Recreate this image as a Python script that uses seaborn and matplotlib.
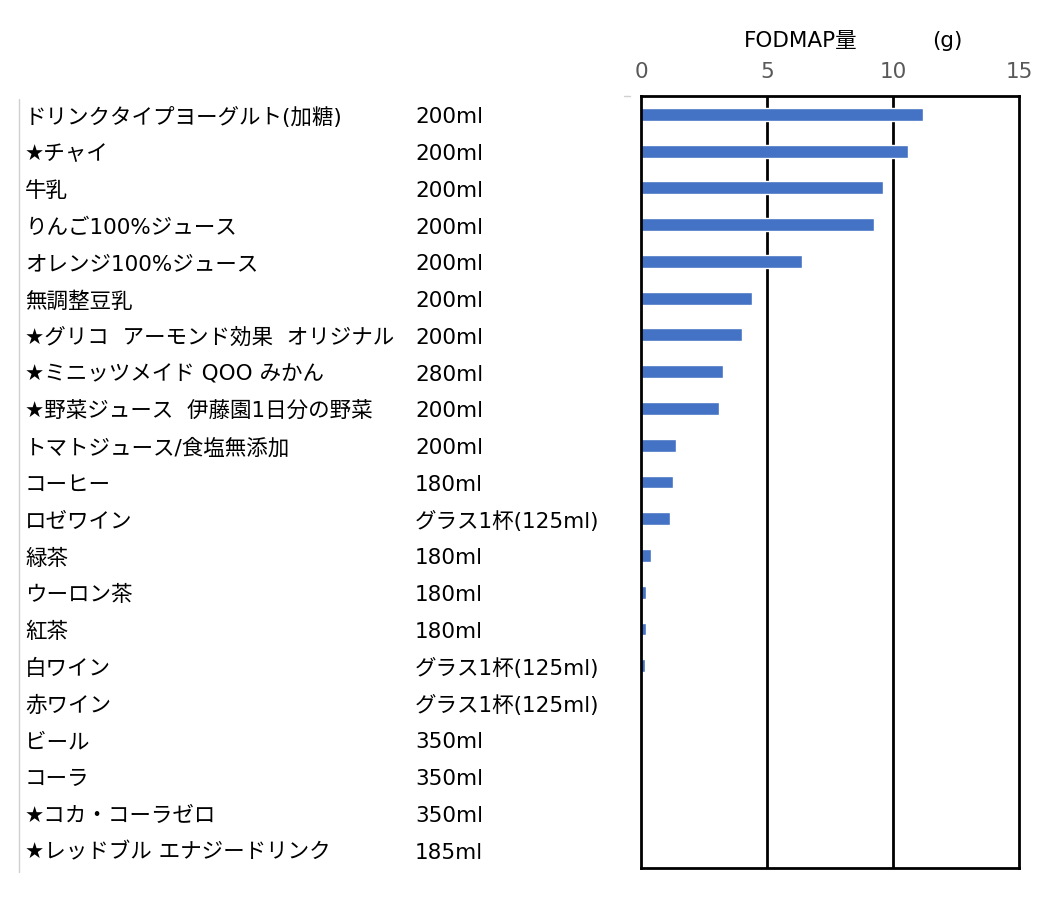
import matplotlib
matplotlib.use("Agg")
import matplotlib.pyplot as plt
import matplotlib.transforms as mtransforms
import pandas as pd
import seaborn as sns

# drinks, serving size and FODMAP amount (g)
drinks = ["ドリンクタイプヨーグルト(加糖)", "★チャイ", "牛乳", "りんご100%ジュース",
          "オレンジ100%ジュース", "無調整豆乳", "★グリコ  アーモンド効果  オリジナル",
          "★ミニッツメイド QOO みかん", "★野菜ジュース  伊藤園1日分の野菜",
          "トマトジュース/食塩無添加", "コーヒー", "ロゼワイン", "緑茶", "ウーロン茶",
          "紅茶", "白ワイン", "赤ワイン", "ビール", "コーラ", "★コカ・コーラゼロ",
          "★レッドブル エナジードリンク"]
servings = ["200ml", "200ml", "200ml", "200ml", "200ml", "200ml", "200ml", "280ml",
            "200ml", "200ml", "180ml", "グラス1杯(125ml)", "180ml", "180ml", "180ml",
            "グラス1杯(125ml)", "グラス1杯(125ml)", "350ml", "350ml", "350ml", "185ml"]
fodmap_g = [11.2, 10.6, 9.6, 9.25, 6.4, 4.4, 4.0, 3.25, 3.1, 1.4, 1.25, 1.15,
            0.4, 0.2, 0.2, 0.15, 0, 0, 0, 0, 0]
x_ticks = [0, 5, 10, 15]

df = pd.DataFrame({"drink": drinks, "serving": servings, "fodmap": fodmap_g})

sns.set_theme(style="white")
plt.rcParams["font.family"] = ["DejaVu Sans", "Noto Sans CJK JP"]
FS = 15.5

fig = plt.figure(figsize=(10.59, 9.03), dpi=100)
ax = fig.add_axes([0.6053, 0.0377, 0.3569, 0.8549])

sns.barplot(data=df, y="drink", x="fodmap", orient="h", color="#4472C4",
            saturation=1, width=0.35, ax=ax)

ax.set_xlim(0, 15)
ax.set_xticks(x_ticks)
ax.xaxis.tick_top()
ax.tick_params(axis="x", length=0, labelsize=FS, labelcolor="#595959", pad=11)
ax.set_xlabel("")
ax.set_ylabel("")
ax.set_yticks(range(len(drinks)))
ax.set_yticklabels([])
ax.tick_params(axis="y", length=0)

for x in x_ticks[1:-1]:
    ax.axvline(x, color="black", linewidth=2, zorder=0)
for s in ax.spines.values():
    s.set_visible(True)
    s.set_color("black")
    s.set_linewidth(2)

# row labels: names and servings, aligned on the category positions
trans = mtransforms.blended_transform_factory(fig.transFigure, ax.transData)
trans = trans + mtransforms.ScaledTranslation(0, -2 / 100, fig.dpi_scale_trans)
for i, (name, serv) in enumerate(zip(drinks, servings)):
    ax.text(0.0236, i, name, transform=trans, ha="left", va="center",
            fontsize=FS, color="black", clip_on=False)
    ax.text(0.392, i, serv, transform=trans, ha="left", va="center",
            fontsize=FS, color="black", clip_on=False)

ax.text(0.423, 1.072, "FODMAP量", transform=ax.transAxes, ha="center",
        va="center", fontsize=FS, color="black")
ax.text(0.81, 1.072, "(g)", transform=ax.transAxes, ha="center",
        va="center", fontsize=FS, color="black")

# thin grey rule on the far left of the label table, and the stray tick
fig.add_artist(plt.Line2D([0.018, 0.018], [0.033, 0.889], transform=fig.transFigure,
                          color="#d0d0d0", linewidth=1))
fig.add_artist(plt.Line2D([0.589, 0.595], [0.8926, 0.8926], transform=fig.transFigure,
                          color="#d0d0d0", linewidth=1))

fig.savefig("out.png", dpi=100)
